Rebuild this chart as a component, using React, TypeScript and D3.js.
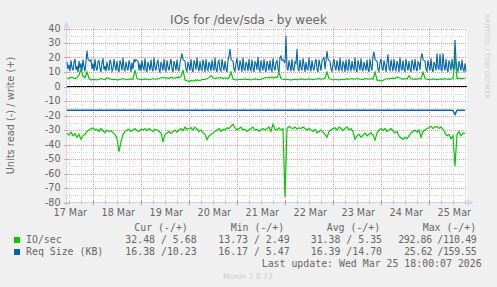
import React from 'react';
import * as d3 from 'd3';

const W = 497;
const H = 287;
const START = Date.UTC(2026, 2, 17, 11, 0, 0);
const END = Date.UTC(2026, 2, 25, 19, 0, 0);
const HOUR = 3600000;

// IO/sec read (shown negative), hourly from 17 Mar 11:00
const ioRead = [
  32, 33.5, 31.5, 34, 32.5, 35, 33, 36.5, 34, 33, 31, 30,
  29, 28.6, 30, 29.5, 31, 29, 30.5, 32, 30, 31, 30.5, 32,
  33, 36, 45, 38, 33, 31,
  30, 29.5, 31, 30, 29, 30.5, 31, 29.5, 30, 29, 30.5, 29, 30, 31, 29.5, 30, 31, 32,
  37.8, 33, 32, 31, 32.5, 31, 30, 31.5, 30, 29, 30.5, 28, 29.5,
  29, 28.5, 30, 28, 29.5, 31, 30, 32, 33,
  36.7, 34, 33,
  32, 31, 30, 29, 31, 29.5, 30, 28.5, 29, 27.5,
  26, 28.5, 30, 29, 28, 30, 29.5, 31, 30, 29, 28, 30, 29.5, 31, 30, 29, 30,
  29, 28, 31, 26, 29.5, 30, 28.5, 30, 29,
  76.4,
  29, 27.5, 28.5, 29, 28, 29.5, 28.5, 29, 28, 29, 30, 29,
  30, 31, 29.5, 32, 31, 30, 31.5, 33, 35, 31, 30, 29, 28.5, 30,
  28, 29, 30.5, 29, 28, 30, 29, 31,
  36.5, 34, 33, 35, 33.5, 32, 34, 33, 32, 33.5,
  37, 32, 30, 29, 30.5, 29, 31, 30, 29, 30.5, 32, 31,
  34, 35.5, 36.5, 35, 36, 34,
  32, 31, 30, 31.5, 30, 35, 31, 30, 29,
  28.5, 27.5, 29, 28, 27.5, 29, 28, 29.5,
  32, 34, 33, 36, 34,
  55, 33, 31, 34, 32, 32.5,
];

// IO/sec write (shown positive), hourly
const ioWrite = [
  6, 5.5, 6.5, 6, 5.5, 6,
  8, 12, 7, 6, 10, 5.5,
  4.5, 5, 4.8, 4.5, 5, 5.5, 5, 4.8, 6, 5.5, 5, 4.8, 5, 4.5, 4.8, 5, 5.5, 5, 4.8, 5, 5.2, 5,
  11.4, 5.5,
  5, 4.8, 5, 5.2, 5, 4.8, 5, 5.5, 5, 5.2, 5.5, 6, 6.2, 5.8, 6, 5.5, 6.5, 6, 5.8, 6.5, 6, 7,
  11.4, 4.5, 4, 3.5, 4, 3.8, 4.2, 4.5, 4, 4.5, 5, 4.8, 5.5,
  6, 7.5, 6, 5.5, 6, 5.8, 6.2, 5.5, 6, 5.5, 6,
  10, 5, 4.8, 4.5, 5, 4.8, 5, 5.2, 4.8, 5, 4.5, 5, 5.2, 5, 4.8, 5, 5.5, 6, 6.2, 5.8, 6.5, 6, 6.5, 6,
  9.5, 5.5, 5, 4.8, 5, 4.8, 4.5, 4.8, 5, 4.8, 5, 5.2, 5, 4.8, 5, 5.2, 5, 4.8, 5, 5.2, 5.5, 5, 5.2, 5.5,
  10, 5.5, 5, 4.5, 5, 4.8, 4.5, 5, 4.8, 5, 5.2, 5, 5.5, 5.2, 5, 5.5, 5.2, 5, 4.8, 5.5, 5.2, 5, 5.5, 5,
  10, 4.5, 4, 3.8, 4.2, 5, 5.5, 5.2, 5.5, 5.8, 5.5, 6.5, 6, 5.5, 5, 5.5, 5.2, 7.5, 5.5, 5, 5.2, 5, 5.5, 5.2,
  10, 5.5, 5, 4.8, 5, 5.2, 5, 4.8, 5, 5.2, 5, 5.5, 5, 5.2, 5, 5.5,
  20, 5.5, 5.8, 5.5, 5.6, 5.68,
];

// Req Size (KB) read (shown negative), hourly
const reqRead = [
  16.4, 16.4, 16.4, 16.4, 16.4, 16.4, 16.4, 16.4, 16.4, 16.4, 16.4, 16.4, 16.4, 16.4, 16.4, 16.4, 16.4, 16.4, 16.4, 16.4,
  16.4, 16.4, 16.4, 16.4, 16.4, 16.4, 16.4, 16.4, 16.4, 16.4, 16.4, 16.4, 16.4, 16.4, 16.4, 16.4, 16.4, 16.4, 16.4, 16.4,
  16.4, 16.4, 16.4, 16.4, 16.4, 16.4, 16.4, 16.4, 16.4, 16.4, 16.4, 16.4, 16.4, 16.4, 16.4, 16.4, 16.4, 16.4, 16.4, 16.4,
  16.4, 16.4, 16.4, 16.4, 16.4, 16.4, 16.4, 16.4, 16.4, 16.4, 16.4, 16.4, 16.4, 16.4, 16.4, 16.4, 16.4, 16.4, 16.4, 16.4,
  16.4, 16.4, 16.4, 16.4, 16.4, 16.4, 16.4, 16.4, 16.4, 16.4, 16.4, 16.4, 16.4, 16.4, 16.4, 16.4, 16.4, 16.4, 16.4, 16.4,
  16.4, 16.4, 16.4, 16.4, 16.4, 16.4, 16.4, 16.4, 16.4, 16.4, 16.4, 16.4, 16.4, 16.4, 16.4, 16.4, 16.4, 16.4, 16.4, 16.4,
  16.4, 16.4, 16.4, 16.4, 16.4, 16.4, 16.4, 16.4, 16.4, 16.4, 16.4, 16.4, 16.4, 16.4, 16.4, 16.4, 16.4, 16.4, 16.4, 16.4,
  16.4, 16.4, 16.4, 16.4, 16.4, 16.4, 16.4, 16.4, 16.4, 16.4, 16.4, 16.4, 16.4, 16.4, 16.4, 16.4, 16.4, 16.4, 16.4, 16.4,
  16.4, 16.4, 16.4, 16.4, 16.4, 16.4, 16.4, 16.4, 16.4, 16.4, 16.4, 16.4, 16.4, 16.4, 16.4, 16.4, 16.4, 16.4, 16.4, 16.4,
  16.4, 16.4, 16.4, 16.4, 16.4, 16.4, 16.4, 16.4, 16.4, 16.4, 16.4, 16.4, 16.4, 16.5, 19.4, 16.4, 16.4, 16.4, 16.4, 16.38,
];

// Req Size (KB) write (shown positive), every 30 minutes
const reqWrite = [
  17, 12, 15, 10.5, 18, 13, 11, 16.5, 19, 11.5, 14, 10, 17.5, 12.5, 16, 11, 18.5, 13.5, 10.5, 17,
  24.7, 19, 18, 17.5, 18.5, 12, 16, 10.5, 19, 13, 11, 17, 18, 12.5, 10, 16.5, 19.5, 11.5, 14, 10.5,
  17, 13, 11, 18.5, 16, 10.5, 12, 19, 14, 11, 17.5, 12, 10, 18, 15.5, 11, 20, 12.5, 10.5, 17,
  13, 11, 18, 15, 10, 16.5, 12, 19, 17, 18.5, 18, 17.5, 11, 16, 10.5, 18, 13, 11.5, 19.5, 12,
  10, 17, 14, 11, 18.5, 12.5, 10.5, 20, 13, 11, 16.5, 18, 11.5, 10, 17, 14.5, 11, 19, 12, 10.5,
  18, 13.5, 11, 16, 19, 12, 10, 17.5, 15, 11, 18.5, 12.5, 10.5, 16, 19.5, 22.9, 18.5, 18, 17.5, 12,
  10.5, 17, 14, 11, 19, 12, 10, 18, 16, 11.5, 20, 13, 10.5, 17.5, 12, 11, 18.5, 15, 10, 19,
  12.5, 11, 17, 14.5, 10.5, 18.5, 13, 11, 20, 12, 10, 16.5, 18, 11.5, 10.5, 19, 14, 11, 17.5, 12.5,
  10, 18, 21, 25.9, 19, 18, 17.5, 12, 10.5, 16, 19.5, 13, 11, 18, 14.5, 10, 20, 12, 11, 17,
  15, 10.5, 19, 12.5, 11, 18.5, 13, 10, 17, 16, 11.5, 20.5, 12, 10.5, 18, 14, 11, 19, 12.5, 10,
  17.5, 15, 11, 18, 12, 10.5, 19.5, 13.5, 11, 16.5, 18, 12, 10, 20, 21, 18, 18.5, 17.5, 16, 35,
  13, 11, 18, 14, 10.5, 19, 12, 11, 17, 16, 25.9, 12.5, 10.5, 18.5, 13, 11, 19.5, 15, 10, 17,
  12, 11.5, 20, 14, 10.5, 18, 13, 11, 16.5, 19, 12, 10, 18.5, 15, 11, 17.5, 19, 20, 12, 18,
  24.5, 19, 18, 17.5, 12, 10.5, 16, 19, 13.5, 11, 18, 14, 10.5, 20, 12.5, 11, 17, 15.5, 10, 18.5,
  12, 11, 19, 14, 10.5, 17.5, 13, 11.5, 20, 12, 10, 18, 15, 11, 19.5, 12.5, 10.5, 17, 14, 11,
  18.5, 12, 10, 19, 13.5, 11, 21, 24, 18.5, 18, 17.5, 12, 10.5, 16.5, 19, 13, 11, 18, 14.5, 10,
  17, 22.2, 12, 11, 18.5, 14, 10.5, 19, 12.5, 11, 17.5, 15, 10, 20, 13, 11, 18, 12, 10.5, 19,
  14, 11, 17.5, 12.5, 10, 18.5, 15, 11, 19, 13, 10.5, 17, 16, 11.5, 20, 22.9, 18.5, 18, 17.5, 12,
  10.5, 18, 14, 11, 19.5, 12, 10, 17, 15, 11, 22.9, 13, 11.5, 22.5, 12, 10.5, 22.9, 14, 11, 19,
  12.5, 10, 18, 15, 11, 19, 13, 11.5, 32, 18, 12, 10.5, 17.5, 14, 11, 18.5, 12, 10.5, 16, 10.23,
];

const yTicks = [40, 30, 20, 10, 0, -10, -20, -30, -40, -50, -60, -70, -80];
const dayLabels = ['17 Mar', '18 Mar', '19 Mar', '20 Mar', '21 Mar', '22 Mar', '23 Mar', '24 Mar', '25 Mar'];

const legendNames = ['IO/sec', 'Req Size (KB)'];
const legendColors = ['#00CC00', '#0066B3'];
const legendHeaders = ['Cur (-/+)', 'Min (-/+)', 'Avg (-/+)', 'Max (-/+)'];
const curVals = ['32.48 / 5.68', '16.38 /10.23'];
const minVals = ['13.73 / 2.49', '16.17 / 5.47'];
const avgVals = ['31.38 / 5.35', '16.39 /14.70'];
const maxVals = ['292.86 /110.49', '25.62 /159.55'];

const TITLE = 'IOs for /dev/sda - by week';
const YTITLE = 'Units read (-) / write (+)';
const LAST_UPDATE = 'Last update: Wed Mar 25 18:00:07 2026';

const FONT = "'DejaVu Sans', sans-serif";
const MONO = "'DejaVu Sans Mono', monospace";
const FG = '#666666';

export default function App() {
  const x = d3.scaleUtc().domain([START, END]).range([67, 467]);
  const y = d3.scaleLinear().domain([-80, 40]).range([202.5, 28.5]);

  const mk = (vals: number[], sign: number, step: number) =>
    d3.line<number>().x((_, i) => x(START + i * step)).y((v) => y(sign * v))(vals) || '';

  const minorX = d3.utcHour.every(6)!.range(new Date(START), new Date(END + 1))
    .filter((d) => d.getUTCHours() !== 0);
  const majorX = d3.utcDay.range(new Date(START), new Date(END + 1));
  const labelDays = d3.utcDay.range(new Date(Date.UTC(2026, 2, 17)), new Date(Date.UTC(2026, 2, 26)));

  const minorY = d3.range(-75, 40, 10);
  const majorY = yTicks.filter((v) => v !== -80);

  const px = (v: number) => Math.round(v) + 0.5;

  const valX = [125.3, 218.3, 310.7];
  const maxX = [398.3, 404.3];
  const hdrX = [134.3, 230.7, 326.7, 422.7];

  return (
    <svg width={W} height={H} style={{ position: 'absolute', left: 0, top: 0 }} xmlns="http://www.w3.org/2000/svg">
      <rect x={0} y={0} width={W} height={H} fill="#F0F0F0" />
      <rect x={67} y={28} width={400} height={175} fill="#FFFFFF" />

      {/* minor grid */}
      {minorX.map((d, i) => (
        <line key={'mx' + i} x1={px(x(d))} x2={px(x(d))} y1={28} y2={202} stroke="#d8d8d8" strokeDasharray="1,1" strokeWidth={1} />
      ))}
      {minorY.map((v, i) => (
        <line key={'my' + i} x1={67} x2={467} y1={px(y(v))} y2={px(y(v))} stroke="#d8d8d8" strokeDasharray="1,1" strokeWidth={1} />
      ))}
      {/* major grid */}
      {majorX.map((d, i) => (
        <line key={'Mx' + i} x1={px(x(d))} x2={px(x(d))} y1={28} y2={202} stroke="#eaa0a0" strokeDasharray="1,1" strokeWidth={1} />
      ))}
      {majorY.map((v, i) => (
        <line key={'My' + i} x1={67} x2={467} y1={px(y(v))} y2={px(y(v))} stroke="#eaa0a0" strokeDasharray="1,1" strokeWidth={1} />
      ))}

      {/* axes */}
      <line x1={66.5} x2={66.5} y1={25} y2={205} stroke="#CFD6F8" strokeWidth={1} />
      <line x1={64} x2={470} y1={202.5} y2={202.5} stroke="#CFD6F8" strokeWidth={1} />
      {yTicks.map((v, i) => (
        <line key={'yt' + i} x1={64} x2={69} y1={px(y(v))} y2={px(y(v))} stroke={v % 10 === 0 ? '#eaa0a0' : '#ccc'} strokeWidth={1} />
      ))}
      {majorX.map((d, i) => (
        <line key={'xt' + i} x1={px(x(d))} x2={px(x(d))} y1={200} y2={205} stroke="#e08080" strokeWidth={1} />
      ))}
      {minorX.map((d, i) => (
        <line key={'xmt' + i} x1={px(x(d))} x2={px(x(d))} y1={201} y2={204} stroke="#bbb" strokeWidth={1} />
      ))}
      <path d="M63.5,28 L66.5,21 L69.5,28 Z" fill="#CFD6F8" />
      <path d="M467,199.5 L474,202.5 L467,205.5 Z" fill="#CFD6F8" />

      {/* data */}
      <path d={mk(ioWrite, 1, HOUR)} fill="none" stroke="#00CC00" strokeWidth={1.2} />
      <path d={mk(ioRead, -1, HOUR)} fill="none" stroke="#00CC00" strokeWidth={1.2} />
      <path d={mk(reqWrite, 1, HOUR / 2)} fill="none" stroke="#0066B3" strokeWidth={1.1} />
      <path d={mk(reqRead, -1, HOUR)} fill="none" stroke="#0066B3" strokeWidth={1.4} />
      <line x1={67} x2={467} y1={y(0)} y2={y(0)} stroke="#000000" strokeWidth={1.2} />

      {/* y labels */}
      {yTicks.map((v, i) => (
        <text key={'yl' + i} x={60.5} y={y(v)} dy="0.35em" textAnchor="end" fontFamily={FONT} fontSize={9.6} fill={FG}>{v}</text>
      ))}
      {/* x labels */}
      {labelDays.map((d, i) => (
        <text key={'xl' + i} x={x(+d + 12 * HOUR) + 1.3} y={216} textAnchor="middle" fontFamily={FONT} fontSize={9.6} fill={FG}>{dayLabels[i]}</text>
      ))}

      {/* title */}
      <text x={248.5} y={23.5} textAnchor="middle" fontFamily={FONT} fontSize={12} fill={FG}>{TITLE}</text>
      {/* y title */}
      <text transform="translate(13.5,115.5) rotate(-90)" textAnchor="middle" fontFamily={FONT} fontSize={9.8} fill={FG}>{YTITLE}</text>
      {/* watermark */}
      <text transform="translate(484.5,14) rotate(90)" textAnchor="start" fontFamily={FONT} fontSize={6.6} fill="#cccccc">RRDTOOL / TOBI OETIKER</text>

      {/* legend */}
      {legendHeaders.map((h, i) => (
        <text key={'lh' + i} x={hdrX[i]} y={231} fontFamily={MONO} fontSize={9.9} fill={FG}>{h}</text>
      ))}
      {legendNames.map((n, r) => (
        <g key={'lg' + r}>
          <rect x={14} y={237 + r * 12} width={6} height={6} fill={legendColors[r]} />
          <text x={26} y={243.3 + r * 12} fontFamily={MONO} fontSize={9.9} fill={FG}>{n}</text>
          <text x={valX[0]} y={243.3 + r * 12} fontFamily={MONO} fontSize={9.9} fill={FG}>{curVals[r]}</text>
          <text x={valX[1]} y={243.3 + r * 12} fontFamily={MONO} fontSize={9.9} fill={FG}>{minVals[r]}</text>
          <text x={valX[2]} y={243.3 + r * 12} fontFamily={MONO} fontSize={9.9} fill={FG}>{avgVals[r]}</text>
          <text x={maxX[r]} y={243.3 + r * 12} fontFamily={MONO} fontSize={9.9} fill={FG}
            textLength={476.7 - maxX[r]} lengthAdjust="spacing">{maxVals[r]}</text>
        </g>
      ))}
      <text x={261.7} y={267} fontFamily={MONO} fontSize={9.9} fill={FG}>{LAST_UPDATE}</text>
      <text x={247.8} y={279} textAnchor="middle" fontFamily={FONT} fontSize={7.6} fill="#cccccc">Munin 2.0.73</text>
    </svg>
  );
}
